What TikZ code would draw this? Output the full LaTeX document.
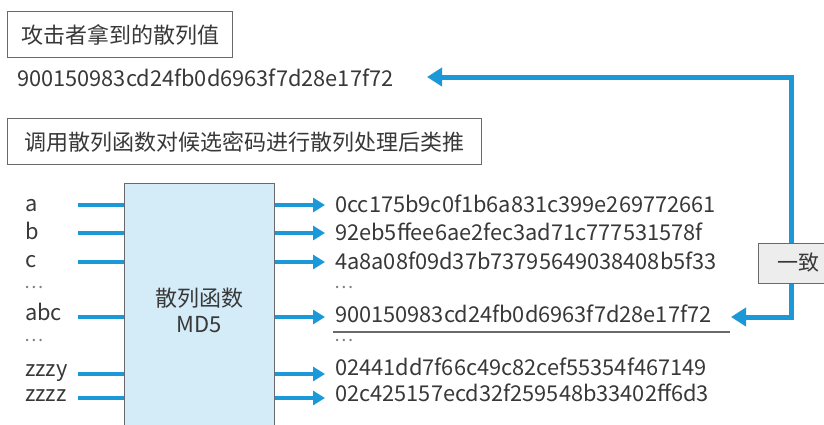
\documentclass[tikz,border=0pt]{standalone}
\usepackage{fontspec}
\setmainfont{Noto Sans CJK SC}
\usetikzlibrary{arrows.meta}
\definecolor{flow}{HTML}{1B98D8}
\definecolor{fnfill}{HTML}{D4EBF8}
\definecolor{edge}{HTML}{6A6A6A}
\definecolor{txt}{HTML}{383838}
\definecolor{okfill}{HTML}{EDEDED}
\begin{document}
\begin{tikzpicture}[x=1pt,y=-1pt,
  title/.style={draw=edge, line width=1.2pt, fill=white, inner sep=0pt,
    minimum height=46pt, font=\fontsize{22}{26}\selectfont, text=txt},
  lbl/.style={anchor=base west, inner sep=0pt, font=\fontsize{21.8}{24}\selectfont, text=txt},
  dots/.style={anchor=west, inner sep=0pt, font=\fontsize{18}{20}\selectfont, text=gray},
  inline/.style={flow, line width=4pt},
  outarrow/.style={flow, line width=4pt, -{Triangle[length=12pt,width=14pt]}},
  feed/.style={flow, line width=5pt, line join=miter,
    {Triangle[length=15pt,width=18pt]}-{Triangle[length=15pt,width=18pt]}}
]
\useasboundingbox (0,0) rectangle (824,424);

% titles
\node[title, anchor=north west, minimum width=225pt] (t1) at (7,11) {攻击者拿到的散列值};
\node[lbl] (got) at (17,86) {900150983cd24fb0d6963f7d28e17f72};
\node[title, anchor=north west, minimum width=474pt] (t2) at (7,118) {调用散列函数对候选密码进行散列处理后类推};

% hash function box
\node[draw=edge, line width=1pt, fill=fnfill, anchor=north west, inner sep=0pt,
      minimum width=150pt, minimum height=245pt] (md5) at (124,183) {};
\node[font=\fontsize{22}{26}\selectfont, text=txt, align=center] (md5t) at (199,310) {散列函数\\MD5};

% inputs
\node[lbl] (ia) at (25,211) {a};
\node[lbl] (ib) at (25,239) {b};
\node[lbl] (ic) at (25,267) {c};
\node[dots] (id1) at (24,287) {…};
\node[lbl] (iabc) at (25,320) {abc};
\node[dots] (id2) at (24,340) {…};
\node[lbl] (iy) at (25,376) {zzzy};
\node[lbl] (iz) at (25,401) {zzzz};

\coordinate (la) at (78,205);
\coordinate (lb) at (78,233);
\coordinate (lc) at (78,262);
\coordinate (labc) at (78,317);
\coordinate (ly) at (78,374);
\coordinate (lz) at (78,398);
\foreach \c in {la,lb,lc,labc,ly,lz}
  \draw[inline] (\c) -- (\c -| md5.west);

% outputs
\node[lbl] (ha) at (335,212) {0cc175b9c0f1b6a831c399e269772661};
\node[lbl] (hb) at (335,240) {92eb5ffee6ae2fec3ad71c777531578f};
\node[lbl] (hc) at (335,269) {4a8a08f09d37b73795649038408b5f33};
\node[dots] (hd1) at (334,287) {…};
\node[lbl] (habc) at (335,322) {900150983cd24fb0d6963f7d28e17f72};
\node[dots] (hd2) at (334,340) {…};
\node[lbl] (hy) at (335,375) {02441dd7f66c49c82cef55354f467149};
\node[lbl] (hz) at (335,401) {02c425157ecd32f259548b33402ff6d3};

\coordinate (ra) at (325,205);
\coordinate (rb) at (325,233);
\coordinate (rc) at (325,262);
\coordinate (rabc) at (325,317);
\coordinate (ry) at (325,374);
\coordinate (rz) at (325,398);
\foreach \c in {ra,rb,rc,rabc,ry,rz}
  \draw[outarrow] (\c -| md5.east) -- (\c);

% underline of the match
\coordinate (ul1) at (333,332);
\coordinate (ul2) at (730,332);
\draw[edge, line width=1.2pt] (ul1) -- (ul2);

% feedback
\coordinate (lowtip) at (731,317);
\coordinate (uptip) at (427,77);
\draw[feed] (lowtip) -- (791,317) |- (uptip);

\node[draw=edge, line width=1pt, fill=okfill, anchor=west, inner sep=0pt,
      minimum width=90pt, minimum height=40pt, font=\fontsize{21}{24}\selectfont, text=txt] (match) at (758,263) {\hspace*{-10pt}一致};
\end{tikzpicture}
\end{document}
